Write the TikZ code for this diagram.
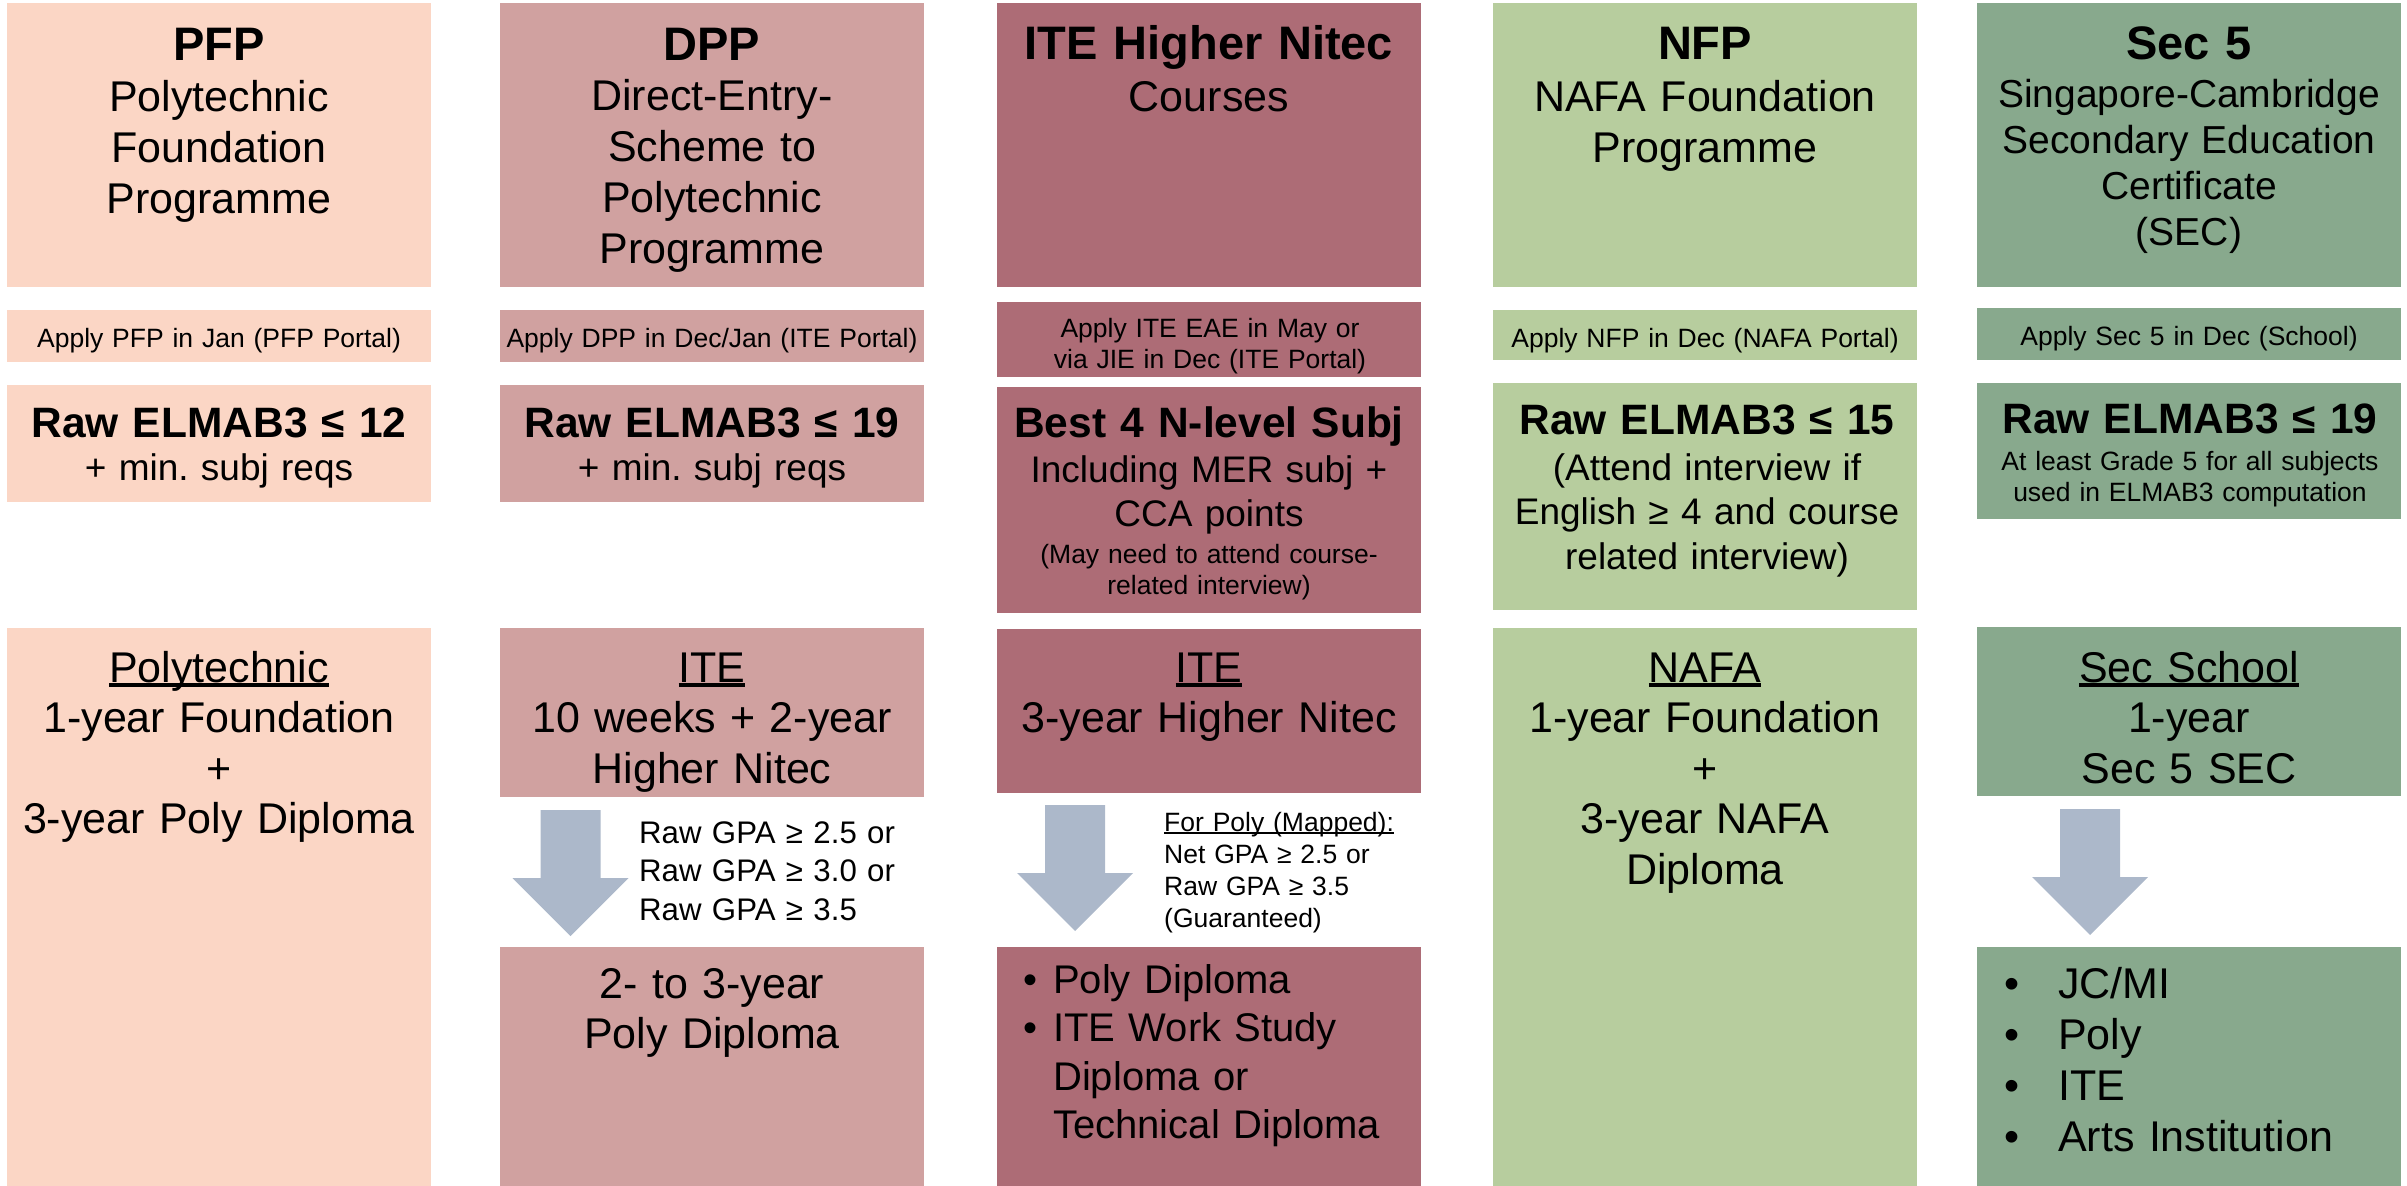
\documentclass[tikz,border=0pt]{standalone}
\usepackage{fontspec}
\setmainfont{Liberation Sans}
\frenchspacing
\definecolor{pfpfill}{RGB}{251,214,197}
\definecolor{dppfill}{RGB}{208,161,160}
\definecolor{itefill}{RGB}{173,108,118}
\definecolor{nfpfill}{RGB}{183,205,158}
\definecolor{secfill}{RGB}{136,169,141}
\definecolor{arrfill}{RGB}{172,184,202}
\newcommand\undl[1]{\setbox0\hbox{#1}\rlap{\rule[-0.106em]{\wd0}{0.073em}}\box0}
\begin{document}
\begin{tikzpicture}[x=1pt, y=-1pt,
    cell/.style={fill=#1, inner sep=0pt, anchor=north west, minimum width=424pt},
    txt/.style={inner sep=0pt, anchor=base, text width=420pt, align=center},
    hd/.style={txt, font=\bfseries\fontsize{47}{52}\selectfont},
    hdsub/.style={txt, font=\fontsize{43}{51.3}\selectfont},
    secsub/.style={txt, font=\fontsize{39}{46.3}\selectfont},
    appl/.style={txt, font=\fontsize{26.5}{31}\selectfont},
    reqhd/.style={txt, font=\bfseries\fontsize{42.5}{50}\selectfont},
    reqtx/.style={txt, font=\fontsize{37}{44.7}\selectfont},
    notetx/.style={txt, font=\fontsize{26.5}{31.5}\selectfont},
    crstx/.style={txt, font=\fontsize{43}{50.5}\selectfont},
    gpatx/.style={inner sep=0pt, anchor=base west, text width=300pt, align=left},
    bultx/.style={inner sep=0pt, anchor=base west, text width=380pt, align=left}]
  \useasboundingbox (0,0) rectangle (2407,1186);
  % boxes, column by column
  \foreach \n/\x/\c in {pfp/7/pfpfill,dpp/500/dppfill,ite/997/itefill,nfp/1493/nfpfill,sec/1977/secfill}
    \node[cell=\c, minimum height=284pt] (\n) at (\x,3) {};
  \foreach \n/\x/\y/\h/\c in {pfpapp/7/310/52pt/pfpfill,dppapp/500/310/52pt/dppfill,iteapp/997/302/75pt/itefill,nfpapp/1493/310/50pt/nfpfill,secapp/1977/308/52pt/secfill}
    \node[cell=\c, minimum height=\h] (\n) at (\x,\y) {};
  \foreach \n/\x/\y/\h/\c in {pfpreq/7/385/117pt/pfpfill,dppreq/500/385/117pt/dppfill,itereq/997/387/226pt/itefill,nfpreq/1493/383/227pt/nfpfill,secreq/1977/383/136pt/secfill}
    \node[cell=\c, minimum height=\h] (\n) at (\x,\y) {};
  \foreach \n/\x/\y/\h/\c in {pfpcrs/7/628/558pt/pfpfill,dppcrs/500/628/169pt/dppfill,itecrs/997/629/164pt/itefill,nfpcrs/1493/628/558pt/nfpfill,seccrs/1977/627/169pt/secfill}
    \node[cell=\c, minimum height=\h] (\n) at (\x,\y) {};
  \foreach \n/\x/\c in {dppout/500/dppfill,iteout/997/itefill,secout/1977/secfill}
    \node[cell=\c, minimum height=239pt] (\n) at (\x,947) {};
  % block arrows
  \coordinate (dpparr) at (570.5,810);
  \coordinate (itearr) at (1075,805);
  \coordinate (secarr) at (2090,809);
  \foreach \a in {dpparr,itearr,secarr}
    \fill[arrfill] (\a) ++(-30,0) -- ++(60,0) -- ++(0,68) -- ++(28,0) -- ++(-58,58) -- ++(-58,-58) -- ++(28,0) -- cycle;
  % headings
  \node[hd] (pfpt) at (219,60) {PFP};
  \node[hdsub] (pfps) at (219,111) {Polytechnic\\Foundation\\Programme};
  \node[hd] (dppt) at (712,60) {DPP};
  \node[hdsub] (dpps) at (712,110) {Direct-Entry-\\Scheme to\\Polytechnic\\Programme};
  \node[hd] (itet) at (1209,59) {ITE Higher Nitec};
  \node[hdsub] (ites) at (1209,111) {Courses};
  \node[hd] (nfpt) at (1705,59) {NFP};
  \node[hdsub] (nfps) at (1705,111) {NAFA Foundation\\Programme};
  \node[hd] (sect) at (2189,59) {Sec 5};
  \node[secsub] (secs) at (2189,107) {Singapore-Cambridge\\Secondary Education\\Certificate\\(SEC)};
  % how to apply
  \node[appl] (pfpa) at (219,347) {Apply PFP in Jan (PFP Portal)};
  \node[appl] (dppa) at (712,347) {Apply DPP in Dec/Jan (ITE Portal)};
  \node[appl] (itea) at (1210,337) {Apply ITE EAE in May or\\via JIE in Dec (ITE Portal)};
  \node[appl] (nfpa) at (1705,347) {Apply NFP in Dec (NAFA Portal)};
  \node[appl] (seca) at (2189,345) {Apply Sec 5 in Dec (School)};
  % requirements
  \node[reqhd] (pfpr) at (219,437) {Raw ELMAB3 ≤ 12};
  \node[reqtx] (pfpm) at (219,480) {+ min. subj reqs};
  \node[reqhd] (dppr) at (712,437) {Raw ELMAB3 ≤ 19};
  \node[reqtx] (dppm) at (712,480) {+ min. subj reqs};
  \node[reqhd] (iter) at (1209,437) {Best 4 N-level Subj};
  \node[reqtx] (item) at (1209,482) {Including MER subj +\\CCA points};
  \node[notetx] (iten) at (1209,563) {(May need to attend course-\\related interview)};
  \node[reqhd] (nfpr) at (1707,434) {Raw ELMAB3 ≤ 15};
  \node[reqtx] (nfpm) at (1707,480) {(Attend interview if\\English ≥ 4 and course\\related interview)};
  \node[reqhd] (secr) at (2190,433) {Raw ELMAB3 ≤ 19};
  \node[notetx] (secm) at (2190,470) {At least Grade 5 for all subjects\\used in ELMAB3 computation};
  % courses
  \node[crstx] (pfpc) at (219,682) {\undl{Polytechnic}\\1-year Foundation\\+\\3-year Poly Diploma};
  \node[crstx] (dppc) at (712,682) {\undl{ITE}\\10 weeks + 2-year\\Higher Nitec};
  \node[crstx] (itec) at (1209,682) {\undl{ITE}\\3-year Higher Nitec};
  \node[crstx] (nfpc) at (1705,682) {\undl{NAFA}\\1-year Foundation\\+\\3-year NAFA\\Diploma};
  \node[crstx] (secc) at (2189,682) {\undl{Sec School}\\1-year\\Sec 5 SEC};
  % progression criteria
  \node[gpatx, font=\fontsize{31.2}{38.5}\selectfont] (dppg) at (639,843) {Raw GPA ≥ 2.5 or\\Raw GPA ≥ 3.0 or\\Raw GPA ≥ 3.5};
  \node[gpatx, font=\fontsize{26.5}{32}\selectfont] (iteg) at (1164,831) {\undl{For Poly (Mapped):}\\Net GPA ≥ 2.5 or\\Raw GPA ≥ 3.5\\(Guaranteed)};
  % outcomes
  \node[crstx] (dppo) at (712,998) {2- to 3-year\\Poly Diploma};
  \node[bultx, font=\fontsize{40}{48.5}\selectfont] (iteo) at (1023,993)
    {\makebox[30pt][l]{•}Poly Diploma\\\makebox[30pt][l]{•}ITE Work Study\\\hspace*{30pt}Diploma or\\\hspace*{30pt}Technical Diploma};
  \node[bultx, font=\fontsize{43}{51}\selectfont] (seco) at (2004,998)
    {\makebox[54pt][l]{•}JC/MI\\\makebox[54pt][l]{•}Poly\\\makebox[54pt][l]{•}ITE\\\makebox[54pt][l]{•}Arts Institution};
\end{tikzpicture}
\end{document}
